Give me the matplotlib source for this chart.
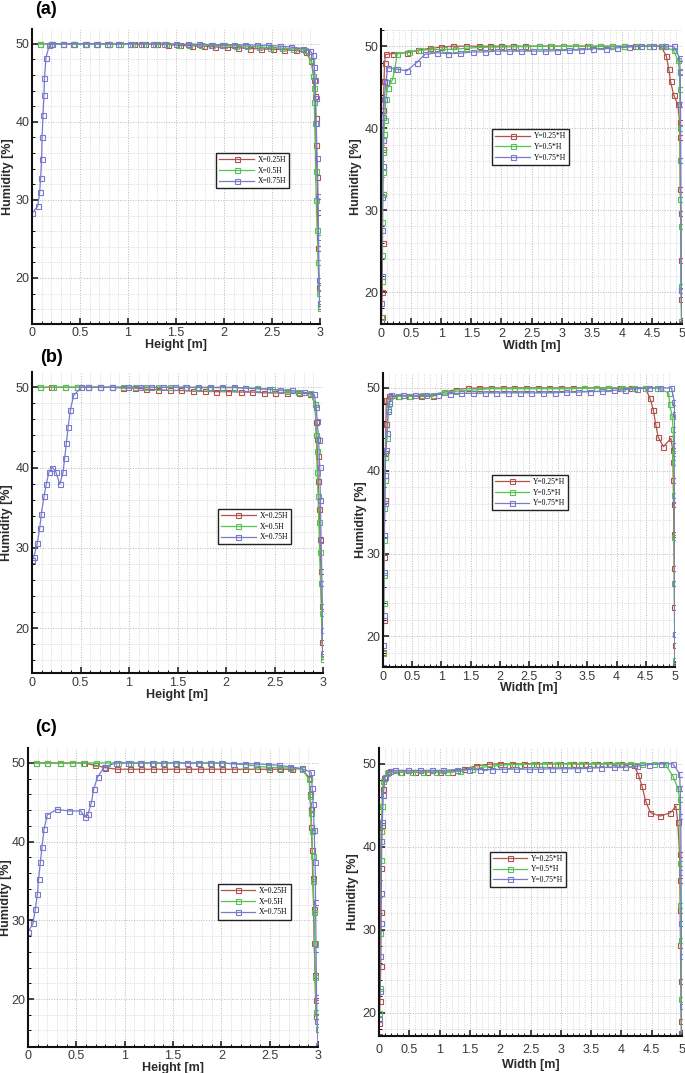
import matplotlib
matplotlib.use("Agg")
from matplotlib import pyplot as plt
from matplotlib.ticker import MultipleLocator

plt.rcParams['font.family'] = ['Liberation Sans', 'DejaVu Sans']

# ---- data ----
# (a) humidity along height
a_h_red_x = [0.08, 0.20, 0.32, 0.44, 0.56, 0.68, 0.80, 0.92, 1.06, 1.18, 1.30, 1.42, 1.54, 1.67, 1.79, 1.91, 2.03, 2.15, 2.27, 2.39, 2.51, 2.62, 2.75, 2.85, 2.91, 2.94, 2.95, 2.955, 2.96, 2.97, 2.975, 2.98, 2.99, 3.0]
a_h_red_y = [50, 50, 50, 50, 50, 50, 50, 50, 50, 50, 49.95, 49.9, 49.8, 49.75, 49.7, 49.6, 49.55, 49.5, 49.4, 49.35, 49.3, 49.25, 49.15, 48.9, 47.8, 45.4, 43.3, 40.5, 37.1, 33.0, 28.5, 23.8, 18.9, 16.4]
a_h_green_x = [0.08, 0.20, 0.32, 0.44, 0.56, 0.68, 0.80, 0.92, 1.04, 1.16, 1.28, 1.40, 1.52, 1.64, 1.76, 1.88, 2.00, 2.12, 2.24, 2.36, 2.48, 2.60, 2.72, 2.84, 2.91, 2.93, 2.935, 2.94, 2.945, 2.955, 2.96, 2.97, 2.98, 2.99, 3.0]
a_h_green_y = [50, 50, 50, 50, 50, 50, 50, 50, 50, 50, 50, 49.95, 49.9, 49.9, 49.85, 49.8, 49.8, 49.75, 49.7, 49.6, 49.5, 49.45, 49.35, 49.2, 47.9, 45.9, 44.4, 42.5, 39.9, 33.7, 30.0, 26.2, 22.1, 18.1, 16.2]
a_h_blue_x = [0.0, 0.06, 0.08, 0.09, 0.10, 0.105, 0.115, 0.125, 0.13, 0.145, 0.18, 0.21, 0.32, 0.43, 0.55, 0.67, 0.78, 0.90, 1.02, 1.14, 1.26, 1.38, 1.50, 1.62, 1.74, 1.86, 1.98, 2.10, 2.22, 2.34, 2.46, 2.58, 2.70, 2.82, 2.90, 2.925, 2.94, 2.95, 2.955, 2.96, 2.97, 2.98, 2.985, 2.99, 3.0]
a_h_blue_y = [28.3, 29.2, 31.0, 32.8, 35.3, 38.1, 40.9, 43.5, 45.6, 48.2, 49.8, 50, 50, 50, 50, 50, 50, 50, 50, 50, 50, 50, 50, 49.95, 49.95, 49.9, 49.9, 49.9, 49.85, 49.85, 49.8, 49.7, 49.6, 49.4, 49.1, 48.6, 47.0, 45.4, 43.0, 39.8, 35.4, 30.5, 25.3, 19.7, 16.8]

# (a) humidity along width
a_w_red_x = [0.0, 0.01, 0.02, 0.025, 0.03, 0.035, 0.04, 0.05, 0.06, 0.075, 0.2, 0.43, 0.62, 0.81, 1.0, 1.2, 1.41, 1.62, 1.81, 2.0, 2.2, 2.4, 2.62, 2.81, 3.02, 3.23, 3.42, 3.64, 3.84, 4.03, 4.22, 4.45, 4.65, 4.74, 4.78, 4.81, 4.86, 4.93, 4.96, 4.965, 4.97, 4.98, 4.985, 4.99, 5.0]
a_w_red_y = [16.5, 17.0, 20.0, 26.0, 32.0, 37.5, 42.2, 45.8, 48.0, 49.0, 49.1, 49.2, 49.5, 49.75, 49.9, 50, 50, 50, 50, 50, 50, 50, 50, 50, 50, 50, 50, 50, 50, 50, 50, 50, 50, 48.8, 47.2, 45.7, 44.1, 42.9, 40.8, 38.9, 32.6, 29.6, 23.9, 19.1, 16.2]
a_w_green_x = [0.0, 0.01, 0.015, 0.02, 0.03, 0.035, 0.04, 0.05, 0.06, 0.08, 0.11, 0.19, 0.23, 0.27, 0.47, 0.65, 0.84, 1.04, 1.23, 1.42, 1.65, 1.84, 2.03, 2.23, 2.42, 2.63, 2.82, 3.02, 3.23, 3.45, 3.64, 3.84, 4.03, 4.25, 4.45, 4.67, 4.86, 4.93, 4.96, 4.962, 4.97, 4.972, 4.975, 4.977, 4.98, 4.99]
a_w_green_y = [17.0, 21.3, 24.5, 28.6, 32.0, 34.7, 37.1, 39.3, 41.0, 43.6, 44.9, 45.9, 47.2, 49.1, 49.3, 49.5, 49.6, 49.6, 49.65, 49.75, 49.85, 49.9, 49.9, 49.95, 49.95, 50, 50, 50, 50, 50, 50, 50, 50, 50, 50, 50, 49.5, 48.3, 47.0, 44.8, 40.0, 36.1, 31.4, 28.0, 20.7, 16.5]
a_w_blue_x = [0.0, 0.005, 0.01, 0.015, 0.02, 0.025, 0.03, 0.04, 0.055, 0.08, 0.11, 0.26, 0.43, 0.59, 0.73, 0.93, 1.12, 1.32, 1.52, 1.72, 1.92, 2.12, 2.32, 2.52, 2.72, 2.92, 3.13, 3.32, 3.52, 3.73, 3.92, 4.12, 4.32, 4.52, 4.72, 4.86, 4.96, 4.97, 4.975, 4.98, 4.99, 5.0]
a_w_blue_y = [16.0, 18.7, 21.9, 27.6, 31.6, 35.4, 38.5, 41.4, 43.5, 45.6, 47.4, 47.2, 47.0, 48.0, 49.0, 49.2, 49.1, 49.15, 49.3, 49.3, 49.4, 49.4, 49.4, 49.4, 49.4, 49.45, 49.5, 49.55, 49.7, 49.7, 49.8, 49.9, 50, 50, 50, 50, 48.6, 46.9, 43.0, 36.1, 20.3, 16.0]

# (b) humidity along height
b_h_red_x = [0.08, 0.20, 0.34, 0.46, 0.58, 0.70, 0.82, 0.94, 1.06, 1.18, 1.30, 1.42, 1.54, 1.66, 1.78, 1.90, 2.02, 2.15, 2.27, 2.39, 2.51, 2.63, 2.75, 2.87, 2.92, 2.925, 2.935, 2.945, 2.95, 2.96, 2.97, 2.975, 2.985, 2.99, 3.0]
b_h_red_y = [50, 50, 50, 50, 50, 50, 50, 49.9, 49.9, 49.75, 49.7, 49.6, 49.6, 49.5, 49.5, 49.45, 49.45, 49.4, 49.4, 49.3, 49.3, 49.3, 49.25, 49.2, 47.9, 45.7, 43.6, 41.4, 38.3, 34.8, 31.1, 27.1, 22.7, 18.3, 16.5]
b_h_green_x = [0.086, 0.22, 0.34, 0.46, 0.58, 0.70, 0.82, 0.94, 1.06, 1.18, 1.30, 1.42, 1.58, 1.70, 1.82, 1.96, 2.08, 2.20, 2.32, 2.47, 2.63, 2.74, 2.87, 2.92, 2.93, 2.935, 2.94, 2.95, 2.957, 2.965, 2.975, 2.985, 3.0]
b_h_green_y = [50, 50, 50, 50, 50, 50, 50, 50, 50, 50, 50, 50, 50, 49.95, 49.95, 49.95, 49.95, 49.9, 49.9, 49.75, 49.5, 49.35, 49.3, 47.9, 44.0, 42.0, 39.4, 36.5, 33.2, 29.5, 25.6, 21.9, 16.1]
b_h_blue_x = [0.0, 0.02, 0.055, 0.08, 0.096, 0.124, 0.148, 0.176, 0.21, 0.245, 0.286, 0.32, 0.337, 0.355, 0.372, 0.396, 0.43, 0.51, 0.58, 0.70, 0.82, 0.99, 1.11, 1.23, 1.35, 1.47, 1.59, 1.71, 1.84, 1.96, 2.08, 2.20, 2.32, 2.44, 2.56, 2.68, 2.80, 2.91, 2.93, 2.94, 2.955, 2.966, 2.973, 2.98, 2.99, 2.997, 3.0]
b_h_blue_y = [28.5, 28.9, 30.6, 32.5, 34.2, 36.4, 38.0, 39.5, 40.0, 39.5, 37.9, 39.4, 41.2, 43.1, 45.0, 47.2, 49.0, 50, 50, 50, 50, 50, 50, 50, 50, 50, 50, 50, 50, 50, 50, 49.9, 49.8, 49.75, 49.65, 49.6, 49.4, 49.1, 47.6, 45.8, 43.4, 40.1, 36.0, 31.0, 25.6, 19.8, 16.9]

# (b) humidity along width
b_w_red_x = [0.0, 0.005, 0.01, 0.02, 0.03, 0.04, 0.05, 0.057, 0.1, 0.25, 0.45, 0.65, 0.85, 1.05, 1.25, 1.45, 1.65, 1.85, 2.05, 2.25, 2.45, 2.65, 2.85, 3.05, 3.25, 3.45, 3.65, 3.85, 4.05, 4.25, 4.49, 4.57, 4.63, 4.67, 4.71, 4.8, 4.93, 4.96, 4.965, 4.97, 4.975, 4.98, 4.985, 4.99, 4.995, 5.0]
b_w_red_y = [16.3, 18.1, 22.0, 29.6, 36.5, 42.1, 45.7, 48.6, 49.0, 49.0, 49.0, 49.0, 49.0, 49.5, 49.8, 49.95, 50, 50, 50, 50, 50, 50, 50, 50, 50, 50, 50, 50, 50, 50, 50, 48.8, 47.3, 45.6, 44.1, 42.9, 43.9, 42.5, 41.1, 38.9, 36.0, 32.4, 28.2, 23.6, 18.9, 16.5]
b_w_green_x = [0.0, 0.01, 0.015, 0.02, 0.025, 0.03, 0.04, 0.06, 0.09, 0.11, 0.27, 0.46, 0.66, 0.85, 1.05, 1.25, 1.45, 1.65, 1.85, 2.05, 2.25, 2.45, 2.65, 2.85, 3.05, 3.25, 3.45, 3.65, 3.86, 4.09, 4.29, 4.49, 4.69, 4.89, 4.91, 4.95, 4.97, 4.975, 4.98, 4.983, 4.987, 4.99, 4.995, 5.0]
b_w_green_y = [18.0, 24.0, 27.4, 31.6, 35.5, 38.9, 41.7, 44.0, 47.4, 48.4, 49.0, 49.0, 49.1, 49.2, 49.5, 49.6, 49.7, 49.8, 49.9, 49.9, 49.9, 49.9, 49.9, 49.9, 49.9, 49.9, 50, 50, 50, 50, 50, 50, 50, 49.4, 48.0, 46.6, 45.0, 42.1, 41.0, 37.1, 32.0, 26.4, 20.3, 17.1]
b_w_blue_x = [0.0, 0.005, 0.01, 0.015, 0.02, 0.03, 0.035, 0.05, 0.074, 0.086, 0.11, 0.14, 0.34, 0.54, 0.74, 0.94, 1.14, 1.34, 1.54, 1.74, 1.94, 2.14, 2.34, 2.54, 2.74, 2.94, 3.14, 3.34, 3.54, 3.75, 3.95, 4.15, 4.35, 4.55, 4.75, 4.94, 4.99, 4.993, 4.995, 4.996, 4.997, 4.998, 5.0]
b_w_blue_y = [16.3, 19.0, 22.6, 27.8, 32.2, 36.1, 39.5, 42.5, 44.5, 47.2, 48.2, 49.1, 49.1, 49.1, 49.1, 49.2, 49.3, 49.35, 49.35, 49.4, 49.4, 49.4, 49.4, 49.4, 49.4, 49.4, 49.5, 49.5, 49.55, 49.6, 49.7, 49.8, 49.9, 50, 50, 50, 48.3, 46.8, 43.1, 36.5, 26.4, 20.3, 16.3]

# (c) humidity along height
c_h_red_x = [0.08, 0.20, 0.33, 0.45, 0.58, 0.69, 0.80, 0.92, 1.05, 1.17, 1.29, 1.41, 1.53, 1.66, 1.78, 1.89, 2.01, 2.13, 2.25, 2.37, 2.49, 2.61, 2.73, 2.83, 2.91, 2.915, 2.925, 2.93, 2.94, 2.945, 2.955, 2.96, 2.97, 2.975, 2.98]
c_h_red_y = [50, 50, 50, 50, 50, 49.7, 49.4, 49.2, 49.2, 49.2, 49.2, 49.2, 49.2, 49.2, 49.2, 49.2, 49.2, 49.2, 49.2, 49.2, 49.2, 49.2, 49.2, 49.3, 48.1, 46.0, 44.1, 41.8, 39.0, 35.4, 31.4, 27.1, 23.0, 19.9, 17.8]
c_h_green_x = [0.08, 0.20, 0.33, 0.45, 0.57, 0.70, 0.82, 0.93, 1.05, 1.17, 1.29, 1.41, 1.53, 1.65, 1.77, 1.89, 2.01, 2.12, 2.24, 2.36, 2.48, 2.60, 2.71, 2.83, 2.91, 2.92, 2.93, 2.935, 2.945, 2.95, 2.96, 2.965, 2.97, 2.98, 3.0]
c_h_green_y = [50, 50, 50, 50, 50, 50, 50, 50, 50, 50, 50, 50, 50, 50, 50, 50, 50, 49.9, 49.8, 49.6, 49.45, 49.4, 49.35, 49.25, 47.9, 45.8, 43.6, 41.3, 38.2, 35.0, 31.0, 27.1, 22.8, 18.4, 16.2]
c_h_blue_x = [0.0, 0.052, 0.076, 0.097, 0.11, 0.128, 0.145, 0.166, 0.20, 0.30, 0.42, 0.545, 0.59, 0.62, 0.655, 0.68, 0.72, 0.79, 0.91, 1.03, 1.16, 1.28, 1.40, 1.52, 1.64, 1.76, 1.88, 2.0, 2.12, 2.24, 2.36, 2.48, 2.60, 2.71, 2.83, 2.93, 2.94, 2.95, 2.96, 2.97, 2.975, 2.98, 2.985, 2.99, 3.0]
c_h_blue_y = [28.5, 29.6, 31.5, 33.3, 35.3, 37.4, 39.3, 41.6, 43.4, 44.1, 43.9, 43.9, 43.1, 43.5, 44.9, 46.7, 48.2, 49.5, 50, 50, 50, 50, 50, 50, 50, 50, 50, 50, 49.9, 49.9, 49.9, 49.8, 49.7, 49.5, 49.3, 48.8, 46.8, 44.8, 41.5, 37.4, 32.3, 26.4, 20.3, 17.2, 14.2]

# (c) humidity along width
c_w_red_x = [0.0, 0.005, 0.015, 0.03, 0.035, 0.04, 0.05, 0.06, 0.08, 0.15, 0.37, 0.59, 0.79, 1.0, 1.21, 1.40, 1.60, 1.81, 2.0, 2.2, 2.4, 2.59, 2.8, 2.99, 3.2, 3.4, 3.6, 3.8, 4.0, 4.2, 4.28, 4.34, 4.4, 4.48, 4.64, 4.81, 4.9, 4.93, 4.96, 4.965, 4.97, 4.975, 4.98, 4.985, 4.99]
c_w_red_y = [17.2, 18.8, 21.4, 25.6, 32.2, 37.4, 42.6, 46.9, 48.3, 49.0, 49.0, 49.0, 49.0, 49.0, 49.0, 49.35, 49.75, 49.95, 50, 50, 50, 50, 50, 50, 50, 50, 50, 50, 50, 49.9, 48.7, 47.3, 45.5, 44.1, 43.7, 44.1, 44.9, 43.0, 39.1, 36.0, 32.4, 28.2, 23.8, 19.0, 17.6]
c_w_green_x = [0.0, 0.005, 0.01, 0.015, 0.025, 0.035, 0.05, 0.07, 0.13, 0.34, 0.54, 0.73, 0.94, 1.13, 1.33, 1.53, 1.73, 1.93, 2.14, 2.33, 2.54, 2.73, 2.94, 3.13, 3.33, 3.53, 3.73, 3.93, 4.14, 4.34, 4.53, 4.72, 4.85, 4.93, 4.96, 4.97, 4.975, 4.98, 4.985, 4.995]
c_w_green_y = [17.0, 20.0, 23.0, 29.6, 38.4, 41.9, 44.9, 47.9, 48.9, 49.0, 49.0, 49.0, 49.0, 49.0, 49.1, 49.35, 49.6, 49.75, 49.9, 49.9, 49.95, 50, 50, 50, 50, 50, 50, 50, 50, 50, 50, 50, 48.5, 47.1, 45.7, 38.0, 33.0, 28.8, 21.6, 17.6]
c_w_blue_x = [0.0, 0.005, 0.01, 0.015, 0.025, 0.03, 0.04, 0.055, 0.07, 0.1, 0.18, 0.26, 0.48, 0.68, 0.87, 1.06, 1.28, 1.48, 1.67, 1.86, 2.06, 2.26, 2.47, 2.66, 2.86, 3.06, 3.27, 3.46, 3.66, 3.87, 4.06, 4.26, 4.45, 4.65, 4.85, 4.96, 4.97, 4.98, 4.985, 4.99, 4.995, 4.998, 5.0]
c_w_blue_y = [17.0, 19.2, 22.6, 26.8, 30.8, 34.4, 40.7, 43.0, 46.2, 48.4, 49.1, 49.2, 49.2, 49.2, 49.2, 49.2, 49.3, 49.3, 49.3, 49.3, 49.35, 49.35, 49.35, 49.35, 49.4, 49.4, 49.4, 49.45, 49.55, 49.6, 49.6, 49.7, 49.9, 50, 50, 48.8, 47.1, 43.7, 37.0, 30.8, 26.8, 20.8, 17.6]

height_labels = ["X=0.25H", "X=0.5H", "X=0.75H"]
width_labels = ["Y=0.25*H", "Y=0.5*H", "Y=0.75*H"]
colors = ["#b0524e", "#55c255", "#7a7acc"]

W, H = 685, 1073
fig = plt.figure(figsize=(W / 100, H / 100), dpi=100)


def panel(box, series, xmax, ylim, xlabel, labels, leg_pos, ylab_x, xlab_dy, tpad):
    l, r, t, b = box
    ax = fig.add_axes([l / W, 1 - b / H, (r - l) / W, (b - t) / H])
    for (xs, ys), c, lab in zip(series, colors, labels):
        ax.plot(xs, ys, color=c, lw=0.9, marker='s', ms=3.6, mfc='none',
                mec=c, mew=0.8, label=lab)
    ax.set_xlim(0, xmax)
    ax.set_ylim(*ylim)
    ax.xaxis.set_major_locator(MultipleLocator(0.5))
    ax.xaxis.set_minor_locator(MultipleLocator(0.1))
    ax.yaxis.set_major_locator(MultipleLocator(10))
    ax.yaxis.set_minor_locator(MultipleLocator(2))
    ax.xaxis.set_major_formatter(plt.FuncFormatter(lambda v, p: f"{v:g}"))
    ax.grid(which='major', color='#b8b8b8', ls=':', lw=0.7)
    ax.grid(which='minor', color='#cfcfcf', ls=':', lw=0.6)
    ax.set_axisbelow(True)
    for s in ['top', 'right']:
        ax.spines[s].set_visible(False)
    for s in ['left', 'bottom']:
        ax.spines[s].set_linewidth(1.5)
        ax.spines[s].set_color('#111111')
    ax.tick_params(which='major', direction='in', length=4.5, width=1.1,
                   labelsize=9, labelcolor='#3a3a3a', color='#111111')
    ax.tick_params(which='minor', direction='in', length=2.2, width=0.7, color='#111111')
    ax.tick_params(axis='x', which='major', pad=tpad)
    ax.tick_params(axis='y', which='major', pad=2)
    ax.set_xlabel(xlabel, fontsize=9, fontweight='bold', color='#2a2a2a', va='center')
    ax.xaxis.set_label_coords(0.5, -xlab_dy / (b - t))
    ax.set_ylabel('Humidity [%]', fontsize=9, fontweight='bold', color='#2a2a2a', va='center')
    ax.yaxis.set_label_coords((ylab_x - l) / (r - l), 0.5)
    leg = ax.legend(loc='upper left', bbox_to_anchor=leg_pos, borderaxespad=0,
                    fancybox=False, framealpha=1, edgecolor='#222222',
                    handlelength=4.5, handletextpad=0.5, borderpad=0.4,
                    labelspacing=0.35,
                    prop={'family': 'Liberation Serif', 'size': 5.5})
    leg.get_frame().set_linewidth(1.0)
    return ax


panel((32, 320, 29, 324),
      [(a_h_red_x, a_h_red_y), (a_h_green_x, a_h_green_y), (a_h_blue_x, a_h_blue_y)],
      3, (14.1, 51.9), 'Height [m]', height_labels, (0.64, 0.58), 8, 21, 2)
panel((381, 682, 29, 324),
      [(a_w_red_x, a_w_red_y), (a_w_green_x, a_w_green_y), (a_w_blue_x, a_w_blue_y)],
      5, (16.1, 52.1), 'Width [m]', width_labels, (0.37, 0.66), 356, 22, 3)
panel((32, 323, 372, 673),
      [(b_h_red_x, b_h_red_y), (b_h_green_x, b_h_green_y), (b_h_blue_x, b_h_blue_y)],
      3, (14.4, 51.9), 'Height [m]', height_labels, (0.64, 0.545), 7, 22, 3)
panel((383, 675, 373, 667),
      [(b_w_red_x, b_w_red_y), (b_w_green_x, b_w_green_y), (b_w_blue_x, b_w_blue_y)],
      5, (16.3, 51.8), 'Width [m]', width_labels, (0.373, 0.653), 361, 21, 3)
panel((28, 318, 748, 1047),
      [(c_h_red_x, c_h_red_y), (c_h_green_x, c_h_green_y), (c_h_blue_x, c_h_blue_y)],
      3, (13.9, 51.9), 'Height [m]', height_labels, (0.655, 0.545), 6, 21, 2)
panel((379, 682, 748, 1036),
      [(c_w_red_x, c_w_red_y), (c_w_green_x, c_w_green_y), (c_w_blue_x, c_w_blue_y)],
      5, (17.2, 51.9), 'Width [m]', width_labels, (0.366, 0.64), 353, 29, 6)

for txt, x, y in [('(a)', 35, 9), ('(b)', 40, 357), ('(c)', 35, 727)]:
    fig.text(x / W, 1 - y / H, txt, fontsize=13, fontweight='bold', va='center', ha='left')

fig.savefig('out.png', dpi=100)
